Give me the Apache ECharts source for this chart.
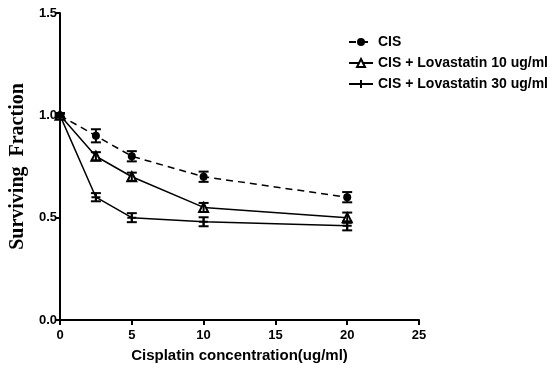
<!DOCTYPE html>
<html>
<head>
<meta charset="utf-8">
<script src="https://cdn.jsdelivr.net/npm/echarts@6/dist/echarts.min.js"></script>
<style>
  html, body { margin: 0; padding: 0; background: #fff; }
  #chart { width: 556px; height: 368px; }
</style>
</head>
<body>
<div id="chart"></div>
<script>
// cisplatin dose (ug/ml)
const doses = [0, 2.5, 5, 10, 20]
const cis = [1.0, 0.90, 0.80, 0.70, 0.60]
const cisErr = [0.01, 0.032, 0.025, 0.025, 0.025]
const lova10 = [1.0, 0.80, 0.70, 0.55, 0.50]
const lova10Err = [0.01, 0.02, 0.02, 0.022, 0.025]
const lova30 = [1.0, 0.60, 0.50, 0.48, 0.46]
const lova30Err = [0.01, 0.02, 0.022, 0.022, 0.022]
const seriesNames = ['CIS', 'CIS + Lovastatin 10 ug/ml', 'CIS + Lovastatin 30 ug/ml']

const chart = echarts.init(document.getElementById('chart'))

function pairs(vals) {
  return doses.map((d, i) => [d, vals[i]])
}

function errData(vals, errs) {
  return doses.map((d, i) => [d, vals[i] - errs[i], vals[i] + errs[i]])
}

// draws an I shaped error bar
function renderErr(params, api) {
  const lo = api.coord([api.value(0), api.value(1)])
  const hi = api.coord([api.value(0), api.value(2)])
  const w = 5
  const style = { stroke: '#000', lineWidth: 2, fill: null }
  return {
    type: 'group',
    children: [
      { type: 'line', shape: { x1: lo[0], y1: lo[1], x2: hi[0], y2: hi[1] }, style },
      { type: 'line', shape: { x1: lo[0] - w, y1: lo[1], x2: lo[0] + w, y2: lo[1] }, style },
      { type: 'line', shape: { x1: hi[0] - w, y1: hi[1], x2: hi[0] + w, y2: hi[1] }, style }
    ]
  }
}

const sans = 'Liberation Sans, Arial, sans-serif'

chart.setOption({
  animation: false,
  grid: {
    left: 60,
    right: 137,
    top: 13,
    bottom: 48
  },
  legend: {
    orient: 'vertical',
    left: 343,
    top: 30,
    itemGap: 7,
    itemWidth: 24,
    itemHeight: 10,
    data: seriesNames,
    textStyle: {
      color: '#000',
      fontFamily: sans,
      fontWeight: 'bold',
      fontSize: 14
    }
  },
  xAxis: {
    type: 'value',
    min: 0,
    max: 25,
    interval: 5,
    name: 'Cisplatin concentration(ug/ml)',
    nameLocation: 'middle',
    nameGap: 28,
    nameTextStyle: { color: '#000', fontFamily: sans, fontWeight: 'bold', fontSize: 15 },
    axisLine: { lineStyle: { color: '#000', width: 2 } },
    axisTick: { lineStyle: { color: '#000', width: 2 }, length: 5 },
    axisLabel: { margin: 9, color: '#000', fontFamily: sans, fontWeight: 'bold', fontSize: 13 },
    splitLine: { show: false }
  },
  yAxis: {
    type: 'value',
    min: 0,
    max: 1.5,
    interval: 0.5,
    name: 'Surviving  Fraction',
    nameLocation: 'middle',
    nameGap: 32,
    nameTextStyle: {
      color: '#000',
      fontFamily: 'Liberation Serif, Times New Roman, serif',
      fontWeight: 'bold',
      fontSize: 20
    },
    axisLine: { lineStyle: { color: '#000', width: 2 } },
    axisTick: { lineStyle: { color: '#000', width: 2 }, length: 4 },
    axisLabel: {
      margin: 3,
      color: '#000',
      fontFamily: sans,
      fontWeight: 'bold',
      fontSize: 13,
      formatter: v => v.toFixed(1)
    },
    splitLine: { show: false }
  },
  series: [
    {
      name: seriesNames[0],
      type: 'line',
      data: pairs(cis),
      symbol: 'circle',
      symbolSize: 8,
      itemStyle: { color: '#000' },
      lineStyle: { color: '#000', width: 1.5, type: [7, 5] },
      z: 3
    },
    {
      name: seriesNames[1],
      type: 'line',
      data: pairs(lova10),
      symbol: 'triangle',
      symbolSize: 9,
      itemStyle: { color: '#fff', borderColor: '#000', borderWidth: 2 },
      lineStyle: { color: '#000', width: 1.5 },
      z: 3
    },
    {
      name: seriesNames[2],
      type: 'line',
      data: pairs(lova30),
      symbol: 'path://M0,5H10M5,0V10',
      symbolSize: 9,
      itemStyle: { color: '#000', borderColor: '#000', borderWidth: 2 },
      lineStyle: { color: '#000', width: 1.5 },
      z: 3
    },
    {
      type: 'custom',
      renderItem: renderErr,
      data: errData(cis, cisErr),
      z: 4
    },
    {
      type: 'custom',
      renderItem: renderErr,
      data: errData(lova10, lova10Err),
      z: 4
    },
    {
      type: 'custom',
      renderItem: renderErr,
      data: errData(lova30, lova30Err),
      z: 4
    }
  ]
})
</script>
</body>
</html>
